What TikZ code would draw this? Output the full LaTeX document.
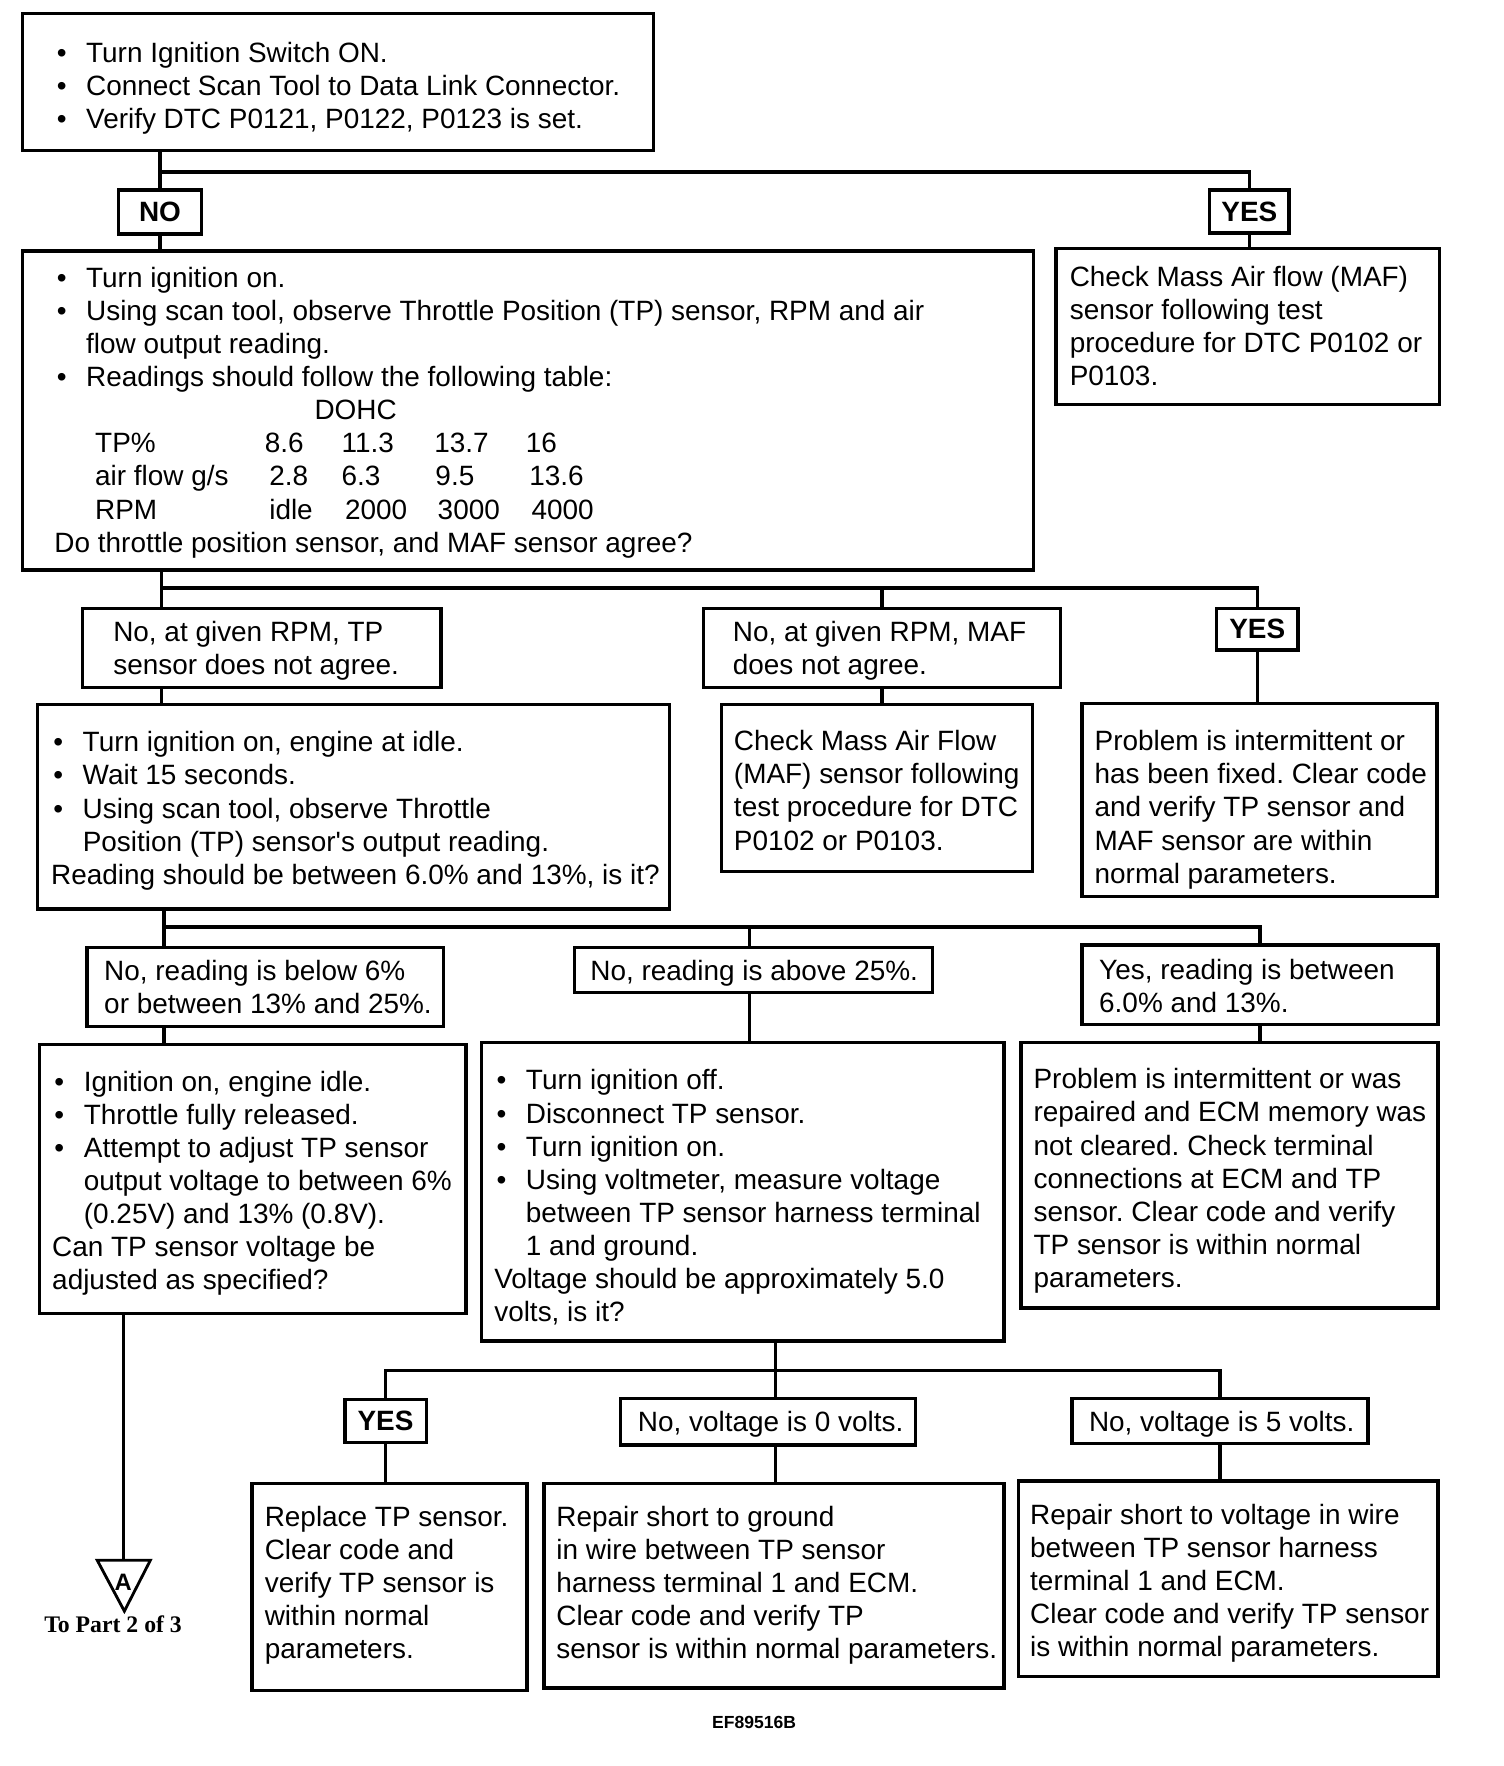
\documentclass[tikz,border=0pt]{standalone}
\usepackage{fontspec}
\setmainfont{Liberation Sans}
\newfontfamily\serifA{Liberation Serif}
\frenchspacing
\newcommand\bu{\makebox[28pt][l]{\hspace{2pt}•}}
\newcommand\ct{\hspace*{28pt}}
\tikzset{
  bx/.style={draw, line width=3pt, inner sep=0pt, outer sep=0pt, anchor=north west},
  txt/.style={inner sep=0pt, anchor=base west, font=\fontsize{24.7}{29.3}\selectfont},
  lab/.style={font=\bfseries\fontsize{24.7}{29.3}\selectfont},
  ln/.style={line width=3pt},
}
\newcommand\mybox[6][]{\node[bx, minimum width={(#4-#2)*1pt}, minimum height={(#5-#3)*1pt}, #1] (#6) at (#2,#3) {};}
\newcommand\mylab[6]{\node[bx, lab, minimum width={(#4-#2)*1pt}, minimum height={(#5-#3)*1pt}] (#1) at (#2,#3) {#6};}
\newcommand\tx[4]{\node[txt] (#1) at (#2,#3) {\begin{tabular}[t]{@{}l@{}}#4\end{tabular}};}
\begin{document}
\begin{tikzpicture}[x=1pt,y=-1pt]
\useasboundingbox[fill=white] (0,0) rectangle (1330,1562);
% boxes
\mybox{20}{12}{578}{133}{b1}
\mybox{20}{222}{914}{504}{b2}
\mybox{934}{220}{1273}{358}{b3}
\mylab{no}{105}{168}{178}{207}{NO}
\mylab{yes1}{1070}{168}{1140}{206}{YES}
\mybox{73}{538}{390}{608}{l1}
\mybox{622}{538}{938}{608}{l2}
\mylab{yes2}{1076}{538}{1148}{575}{YES}
\mybox{33}{623}{592}{804}{b4}
\mybox{638}{623}{913}{771}{b5}
\mybox{957}{622}{1271}{793}{b6}
\mybox{77}{838}{392}{908}{l3}
\mybox{508}{838}{825}{878}{l4}
\mybox{957}{836}{1272}{906}{l5}
\mybox{35}{924}{412}{1162}{b7}
\mybox{426}{922}{888}{1186}{b8}
\mybox{903}{922}{1272}{1157}{b9}
\mylab{yes3}{305}{1238}{377}{1276}{YES}
\mybox{549}{1237}{810}{1278}{l6}
\mybox{948}{1237}{1210}{1277}{l7}
\mybox{223}{1312}{466}{1495}{b10}
\mybox{481}{1312}{888}{1493}{b11}
\mybox{901}{1310}{1272}{1483}{b12}
% texts
\tx{t1}{48}{55}{\bu Turn Ignition Switch ON.\\
\bu Connect Scan Tool to Data Link Connector.\\
\bu Verify DTC P0121, P0122, P0123 is set.}
\tx{t2}{48}{254}{\bu Turn ignition on.\\
\bu Using scan tool, observe Throttle Position (TP) sensor, RPM and air\\
\ct flow output reading.\\
\bu Readings should follow the following table:\\
\hspace*{230pt}DOHC\\
\hspace*{36pt}\makebox[150pt][l]{TP\%}\makebox[68pt][l]{8.6}\makebox[82pt][l]{11.3}\makebox[81pt][l]{13.7}16\\
\hspace*{36pt}\makebox[154pt][l]{air flow g/s}\makebox[64pt][l]{2.8}\makebox[83pt][l]{6.3}\makebox[83pt][l]{9.5}13.6\\
\hspace*{36pt}\makebox[154pt][l]{RPM}\makebox[67pt][l]{idle}\makebox[82pt][l]{2000}\makebox[83pt][l]{3000}4000\\
Do throttle position sensor, and MAF sensor agree?}
\tx{t3}{946}{253}{Check Mass Air flow (MAF)\\ sensor following test\\ procedure for DTC P0102 or\\ P0103.}
\tx{tl1}{100}{567}{No, at given RPM, TP\\ sensor does not agree.}
\tx{tl2}{648}{567}{No, at given RPM, MAF\\ does not agree.}
\tx{t4}{45}{665}{\bu Turn ignition on, engine at idle.\\
\bu Wait 15 seconds.\\
\bu Using scan tool, observe Throttle\\
\ct Position (TP) sensor\textquotesingle s output reading.\\
Reading should be between 6.0\% and 13\%, is it?}
\tx{t5}{649}{664}{Check Mass Air Flow\\ (MAF) sensor following\\ test procedure for DTC\\ P0102 or P0103.}
\tx{t6}{968}{664}{Problem is intermittent or\\ has been fixed. Clear code\\ and verify TP sensor and\\ MAF sensor are within\\ normal parameters.}
\tx{tl3}{92}{867}{No, reading is below 6\%\\ or between 13\% and 25\%.}
\tx{tl4}{522}{867}{No, reading is above 25\%.}
\tx{tl5}{972}{866}{Yes, reading is between\\ 6.0\% and 13\%.}
\tx{t7}{46}{965}{\bu Ignition on, engine idle.\\
\bu Throttle fully released.\\
\bu Attempt to adjust TP sensor\\
\ct output voltage to between 6\%\\
\ct (0.25V) and 13\% (0.8V).\\
Can TP sensor voltage be\\
adjusted as specified?}
\tx{t8}{437}{964}{\bu Turn ignition off.\\
\bu Disconnect TP sensor.\\
\bu Turn ignition on.\\
\bu Using voltmeter, measure voltage\\
\ct between TP sensor harness terminal\\
\ct 1 and ground.\\
Voltage should be approximately 5.0\\
volts, is it?}
\tx{t9}{914}{963}{Problem is intermittent or was\\ repaired and ECM memory was\\ not cleared. Check terminal\\ connections at ECM and TP\\ sensor. Clear code and verify\\ TP sensor is within normal\\ parameters.}
\tx{tl6}{564}{1266}{No, voltage is 0 volts.}
\tx{tl7}{963}{1266}{No, voltage is 5 volts.}
\tx{t10}{234}{1350}{Replace TP sensor.\\ Clear code and\\ verify TP sensor is\\ within normal\\ parameters.}
\tx{t11}{492}{1350}{Repair short to ground\\ in wire between TP sensor\\ harness terminal 1 and ECM.\\ Clear code and verify TP\\ sensor is within normal parameters.}
\tx{t12}{911}{1348}{Repair short to voltage in wire\\ between TP sensor harness\\ terminal 1 and ECM.\\ Clear code and verify TP sensor\\ is within normal parameters.}
% connectors
\coordinate (j1) at (0,152);
\draw[ln] (b1.south -| no.north) -- (no.north);
\draw[ln] (j1 -| no.north) -| (yes1.north);
\draw[ln] (no.south) -- (no.south |- b2.north);
\draw[ln] (yes1.south) -- (yes1.south |- b3.north);
\coordinate (j2) at (0,520);
\coordinate (c2) at (143,0);
\draw[ln] (b2.south -| c2) -- (l1.north -| c2);
\draw[ln] (j2 -| c2) -| (yes2.north);
\draw[ln] (j2 -| l2.north) -- (l2.north);
\draw[ln] (l1.south -| c2) -- (b4.north -| c2);
\draw[ln] (l2.south) -- (l2.south |- b5.north);
\draw[ln] (yes2.south) -- (yes2.south |- b6.north);
\coordinate (j3) at (0,820);
\coordinate (c3) at (145,0);
\coordinate (c4) at (663,0);
\draw[ln] (b4.south -| c3) -- (l3.north -| c3);
\draw[ln] (j3 -| c3) -| (l5.north);
\draw[ln] (j3 -| c4) -- (l4.north -| c4);
\draw[ln] (l3.south -| c3) -- (b7.north -| c3);
\draw[ln] (l4.south -| c4) -- (b8.north -| c4);
\draw[ln] (l5.south) -- (l5.south |- b9.north);
\coordinate (j4) at (0,1212);
\coordinate (c5) at (686,0);
\draw[ln] (b8.south -| c5) -- (l6.north -| c5);
\draw[ln] (yes3.north) |- (j4 -| l7.north) -- (l7.north);
\draw[ln] (l6.south -| c5) -- (b11.north -| c5);
\draw[ln] (yes3.south) -- (yes3.south |- b10.north);
\draw[ln] (l7.south) -- (l7.south |- b12.north);
% off-page connector
\coordinate (triL) at (86,1380);
\coordinate (triT) at (109,1380);
\coordinate (triR) at (133,1380);
\coordinate (triB) at (110,1425);
\draw[ln] (b7.south -| triT) -- (triT);
\draw[line width=2.5pt, line join=miter] (triL) -- (triR) -- (triB) -- cycle;
\node[font=\bfseries\fontsize{21}{21}\selectfont, inner sep=0pt, anchor=base] (A) at (109,1407) {A};
\node[font=\serifA\bfseries\fontsize{21}{21}\selectfont, anchor=base, inner sep=0pt] (topart) at (100,1444) {To Part 2 of 3};
\node[font=\bfseries\fontsize{15.5}{16}\selectfont, anchor=base, inner sep=0pt] (code) at (667,1529) {EF89516B};
\end{tikzpicture}
\end{document}
